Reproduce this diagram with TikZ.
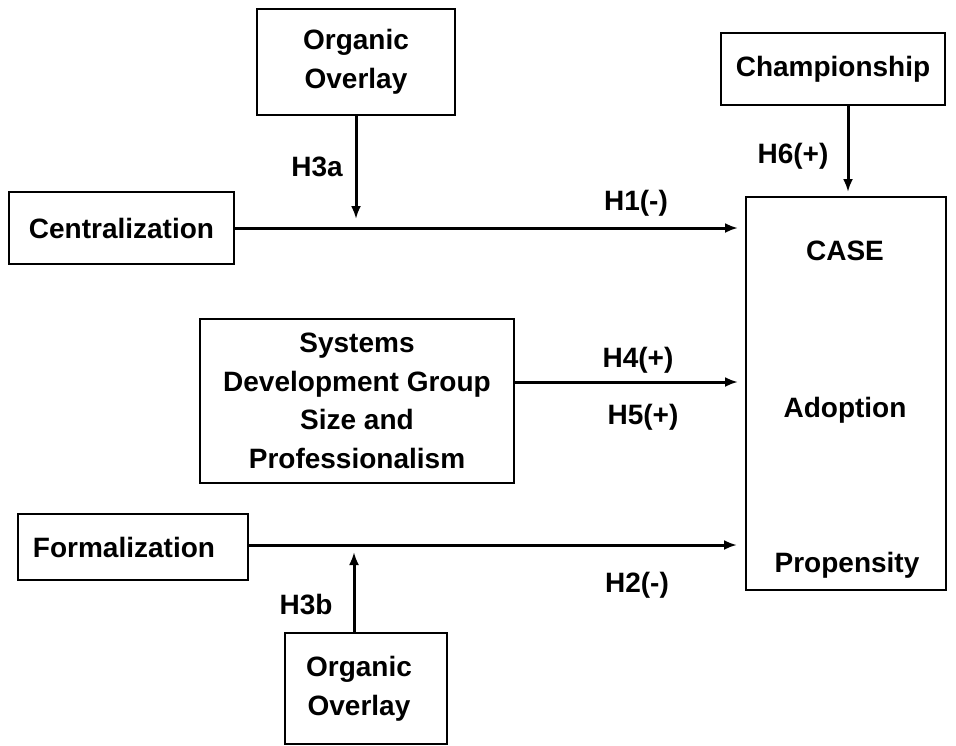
\documentclass[tikz,border=0pt]{standalone}
\usepackage{fontspec}
\setmainfont{Liberation Sans}
\usetikzlibrary{arrows.meta}
\begin{document}
\begin{tikzpicture}[x=1pt,y=-1pt,
  box/.style={draw, line width=2pt, inner sep=0pt, align=center, font=\bfseries\fontsize{28}{38.5}\selectfont},
  lbl/.style={inner sep=0pt, anchor=base, font=\bfseries\fontsize{28}{38.5}\selectfont},
  arr/.style={line width=3pt, -{Latex[length=13pt,width=10pt]}}]
\useasboundingbox (0,0) rectangle (956,745);
% boxes
\node[box, minimum width=198pt, minimum height=106pt] (org1) at (356,62) {Organic\\Overlay};
\node[box, minimum width=225pt, minimum height=72pt] (cent) at (121.5,228) {Centralization};
\node[box, minimum width=224pt, minimum height=72pt] (champ) at (833,69) {Championship};
\node[box, minimum width=200pt, minimum height=393pt] (case) at (846,393.5) {};
\node[box, minimum width=314pt, minimum height=164pt] (sys) at (357,401) {Systems\\Development Group\\Size and\\Professionalism};
\node[box, minimum width=230pt, minimum height=66pt] (form) at (133,547) {Formalization\hspace*{18pt}};
\node[box, minimum width=162pt, minimum height=111pt] (org2) at (366,688.5) {\hspace*{-14pt}Organic\\\hspace*{-14pt}Overlay};
% text inside the outcome box
\node[lbl] (t1) at (845,260) {CASE};
\node[lbl] (t2) at (845,417) {Adoption};
\node[lbl] (t3) at (847,572) {Propensity};
% connectors
\coordinate (h3a) at (356,219);
\coordinate (h3b) at (354,552);
\draw[arr, shorten >=7pt] (cent.east) -- (cent.east -| case.west);
\draw[arr] (org1.south) -- (h3a);
\draw[arr, shorten >=4pt] ([xshift=2pt]champ.south -| case.north) -- ([xshift=2pt]case.north);
\draw[arr, shorten >=7pt] ([yshift=19pt]sys.east) -- ([yshift=19pt]sys.east -| case.west);
\draw[arr, shorten >=8pt] ([yshift=2pt]form.east) -- ([yshift=2pt]form.east -| case.west);
\draw[arr] (org2.north -| h3b) -- (h3b);
% labels
\node[lbl] (l1) at (636,210) {H1(-)};
\node[lbl] (l4) at (638,367) {H4(+)};
\node[lbl] (l5) at (643,424) {H5(+)};
\node[lbl] (l2) at (637,592) {H2(-)};
\node[lbl] (l3a) at (317,176) {H3a};
\node[lbl] (l6) at (793,163) {H6(+)};
\node[lbl] (l3b) at (306,614) {H3b};
\end{tikzpicture}
\end{document}
